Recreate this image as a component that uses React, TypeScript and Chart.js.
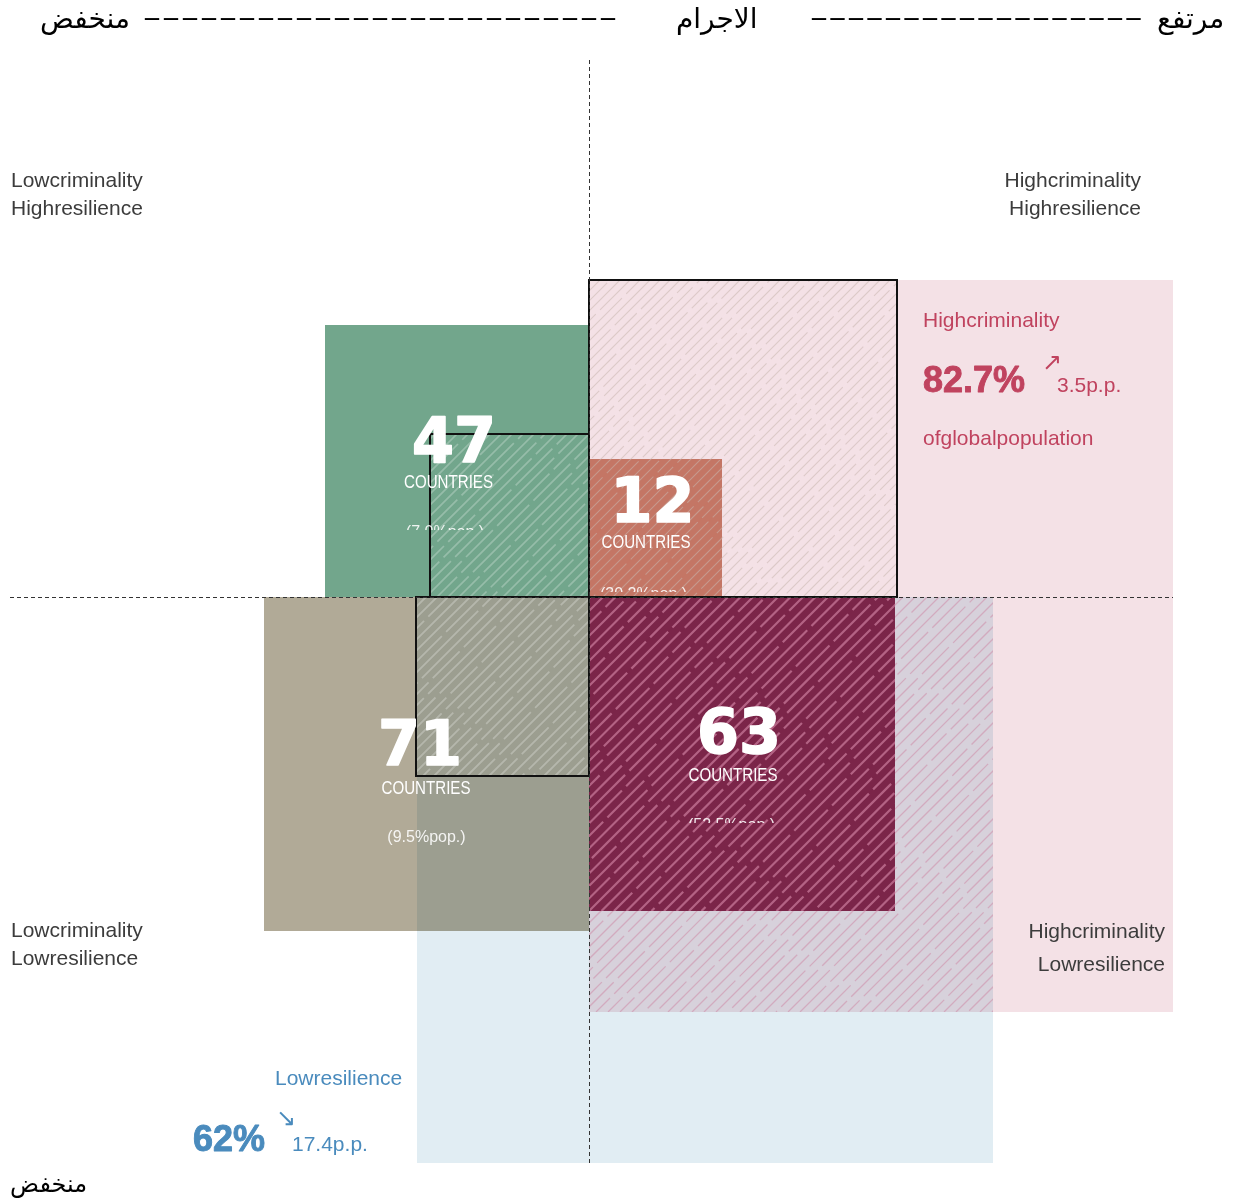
import React, { useEffect, useRef } from "react";
import { Chart, registerables } from "chart.js";

Chart.register(...registerables);

// ---------------- data (units: arbitrary, origin = quadrant centre, y up) ----------------
const X_DOMAIN = [-117.8, 129.8];
const Y_DOMAIN = [-121, 119.4];

// population-share areas
const shareLabels = ["Highcriminality", "Lowresilience"];
const shareValues = ["82.7%", "62%"];
const shareChanges = ["3.5p.p.", "17.4p.p."];
const shareArrows = ["↗", "↘"];
const shareSubtitles = ["ofglobalpopulation", ""];
const shareX0 = [0, -34.4];
const shareX1 = [116.8, 80.8];
const shareY0 = [-83, -113.2];
const shareY1 = [63.4, 0];

// country groups
const groupCounts = ["47", "12", "71", "63"];
const groupUnit = "COUNTRIES";
const groupPop = ["(7.0%pop.)", "(30.2%pop.)", "(9.5%pop.)", "(52.5%pop.)"];
const groupX0 = [-52.8, 0, -65, 0];
const groupX1 = [0, 26.6, 0, 61.2];
const groupY0 = [0, 0, -66.8, -62.8];
const groupY1 = [54.4, 27.6, 0, 0];

// outlined (hatched) boxes
const prevX0 = [-31.8, 0, -34.6];
const prevX1 = [0, 61.6, 0];
const prevY0 = [0, 0, -35.8];
const prevY1 = [32.6, 63.4, 0];

// quadrant labels
const quadLabels = [
  ["Lowcriminality", "Highresilience"],
  ["Highcriminality", "Highresilience"],
  ["Lowcriminality", "Lowresilience"],
  ["Highcriminality", "Lowresilience"],
];

// axis titles
const axisLow = "منخفض";
const axisHigh = "مرتفع";
const axisTitle = "الاجرام";

// ---------------- layout / style (not data) ----------------
const SHARE_FILL = ["#f4e1e6", "#e1edf3"];
const SHARE_TEXT = ["#c0435f", "#4a8bbd"];
const GROUP_FILL = ["#72a68c", "#c47665", "#b1aa97", "#7b2549"];

const groupNumPos = [[-27, 27], [12.7, 15], [-33.8, -33.6], [30, -31.2]];
const groupUnitPos = [[-28.1, 21.8], [11.4, 9.8], [-32.6, -39.4], [28.8, -36.8]];
const groupPopPos = [[-28.8, 12], [10.9, -0.4], [-32.5, -49], [28.5, -46.6]];
const groupPopClip: (number | null)[] = [13.4, 1, null, -45.2];

const quadPos = [
  { x: -115.6, y: [82, 76.4], align: "left" },
  { x: 110.4, y: [82, 76.4], align: "right" },
  { x: -115.6, y: [-68, -73.6], align: "left" },
  { x: 115.2, y: [-68.2, -74.8], align: "right" },
];

const shareTextPos = [
  { x: 66.8, label: 54, value: 41, arrow: [92.6, 46.6], change: 93.6, sub: 30.4 },
  { x: -62.8, label: -97.6, value: -110.8, arrow: [-60.6, -104.6], change: -59.4, sub: 0, vx: -79.2 },
];

const SANS = "'Liberation Sans', Arial, sans-serif";

function drawHatch(ctx: CanvasRenderingContext2D, L: number, T: number, W: number, H: number,
  color: string, lw: number, gap: number) {
  ctx.save();
  ctx.beginPath();
  ctx.rect(L, T, W, H);
  ctx.clip();
  ctx.strokeStyle = color;
  ctx.lineWidth = lw;
  ctx.lineCap = "butt";
  const pattern = [96, 6, 52, 6, 140, 6, 38, 6, 74, 6];
  const total = pattern.reduce((a, b) => a + b, 0);
  ctx.setLineDash(pattern);
  const cStart = Math.floor((L + T) / gap) * gap;
  const cEnd = L + W + T + H + gap;
  for (let c = cStart; c < cEnd; c += gap) {
    const k = Math.round(c / gap);
    ctx.lineDashOffset = ((k * 131) % 97) * 4.3 % total;
    ctx.beginPath();
    ctx.moveTo(c - (T + H), T + H);
    ctx.lineTo(c - T, T);
    ctx.stroke();
  }
  ctx.restore();
}

const quadrantPlugin = {
  id: "quadrants",
  afterDraw(chart: any) {
    const ctx: CanvasRenderingContext2D = chart.ctx;
    const xs = chart.scales.x;
    const ys = chart.scales.y;
    const px = (v: number) => xs.getPixelForValue(v);
    const py = (v: number) => ys.getPixelForValue(v);
    const box = (x0: number, x1: number, y0: number, y1: number) => {
      const L = px(x0), R = px(x1), T = py(y1), B = py(y0);
      return [L, T, R - L, B - T];
    };
    const text = (s: string, x: number, y: number, font: string, color: string,
      align: CanvasTextAlign = "left", maxW?: number, strokeW = 0) => {
      ctx.font = font;
      ctx.fillStyle = color;
      ctx.textAlign = align;
      ctx.textBaseline = "alphabetic";
      if (maxW) ctx.fillText(s, px(x), py(y), maxW);
      else ctx.fillText(s, px(x), py(y));
      if (strokeW > 0) {
        ctx.strokeStyle = color;
        ctx.lineWidth = strokeW;
        ctx.lineJoin = "round";
        ctx.setLineDash([]);
        if (maxW) ctx.strokeText(s, px(x), py(y), maxW);
        else ctx.strokeText(s, px(x), py(y));
      }
    };

    ctx.save();
    // 1. high-criminality share background
    {
      const [L, T, W, H] = box(shareX0[0], shareX1[0], shareY0[0], shareY1[0]);
      ctx.fillStyle = SHARE_FILL[0];
      ctx.fillRect(L, T, W, H);
    }
    // 2. green + tan groups
    [0, 2].forEach((i) => {
      const [L, T, W, H] = box(groupX0[i], groupX1[i], groupY0[i], groupY1[i]);
      ctx.fillStyle = GROUP_FILL[i];
      ctx.fillRect(L, T, W, H);
    });
    // 3. low-resilience share (multiply)
    {
      const [L, T, W, H] = box(shareX0[1], shareX1[1], shareY0[1], shareY1[1]);
      ctx.save();
      ctx.globalCompositeOperation = "multiply";
      ctx.fillStyle = SHARE_FILL[1];
      ctx.fillRect(L, T, W, H);
      ctx.restore();
    }
    // 4. hatch on intersection of both shares
    {
      const ix0 = Math.max(shareX0[0], shareX0[1]);
      const ix1 = Math.min(shareX1[0], shareX1[1]);
      const iy0 = Math.max(shareY0[0], shareY0[1]);
      const iy1 = Math.min(shareY1[0], shareY1[1]);
      const [L, T, W, H] = box(ix0, ix1, iy0, iy1);
      drawHatch(ctx, L, T, W, H, "rgba(205,140,168,0.55)", 1.3, 12);
    }
    // 5. red + maroon groups
    [1, 3].forEach((i) => {
      const [L, T, W, H] = box(groupX0[i], groupX1[i], groupY0[i], groupY1[i]);
      ctx.fillStyle = GROUP_FILL[i];
      ctx.fillRect(L, T, W, H);
    });
    {
      const [L, T, W, H] = box(groupX0[3], groupX1[3], groupY0[3], groupY1[3]);
      drawHatch(ctx, L, T, W, H, "rgba(225,150,180,0.55)", 2.2, 12.5);
    }
    // 6. hatched outlined boxes
    const prevHatch = [
      ["rgba(255,255,255,0.26)", 1.7, 11],
      ["rgba(200,182,175,0.55)", 1.1, 10],
      ["rgba(255,255,255,0.26)", 1.8, 11],
    ] as const;
    prevX0.forEach((_, i) => {
      const [L, T, W, H] = box(prevX0[i], prevX1[i], prevY0[i], prevY1[i]);
      drawHatch(ctx, L, T, W, H, prevHatch[i][0], prevHatch[i][1], prevHatch[i][2]);
    });
    ctx.setLineDash([]);
    ctx.strokeStyle = "#111";
    ctx.lineWidth = 2;
    prevX0.forEach((_, i) => {
      const [L, T, W, H] = box(prevX0[i], prevX1[i], prevY0[i], prevY1[i]);
      ctx.strokeRect(L, T, W, H);
    });

    // 7. dashed quadrant axes
    ctx.strokeStyle = "#333";
    ctx.lineWidth = 1;
    ctx.setLineDash([4, 3]);
    ctx.beginPath();
    ctx.moveTo(Math.round(px(0)) + 0.5, py(107.4));
    ctx.lineTo(Math.round(px(0)) + 0.5, py(-113.2));
    ctx.moveTo(px(-115.8), Math.round(py(0)) + 0.5);
    ctx.lineTo(px(116.8), Math.round(py(0)) + 0.5);
    ctx.stroke();
    ctx.setLineDash([]);

    // 8. group labels
    groupCounts.forEach((n, i) => {
      text(n, groupNumPos[i][0], groupNumPos[i][1], "bold 62px 'DejaVu Sans', sans-serif", "#ffffff", "center", 84, 1.6);
      text(groupUnit, groupUnitPos[i][0], groupUnitPos[i][1], `18px ${SANS}`, "#ffffff", "center", 89);
      ctx.save();
      const clip = groupPopClip[i];
      if (clip !== null) {
        ctx.beginPath();
        ctx.rect(0, 0, chart.width, py(clip));
        ctx.clip();
      }
      text(groupPop[i], groupPopPos[i][0], groupPopPos[i][1], `16px ${SANS}`, "rgba(255,255,255,0.88)", "center");
      ctx.restore();
    });

    // 9. quadrant labels
    quadLabels.forEach((lines, i) => {
      const p = quadPos[i];
      lines.forEach((s, j) => text(s, p.x, p.y[j], `21px ${SANS}`, "#3c3c3c", p.align as CanvasTextAlign));
    });

    // 10. share annotations
    shareLabels.forEach((lab, i) => {
      const p: any = shareTextPos[i];
      const c = SHARE_TEXT[i];
      text(lab, p.x, p.label, `21px ${SANS}`, c);
      text(shareValues[i], p.vx ?? p.x, p.value, `bold 36px ${SANS}`, c, "left", undefined, 0.9);
      ctx.font = `24px 'DejaVu Sans', sans-serif`;
      ctx.fillStyle = c;
      ctx.textAlign = "center";
      ctx.textBaseline = "middle";
      ctx.fillText(shareArrows[i], px(p.arrow[0]), py(p.arrow[1]));
      text(shareChanges[i], p.change, p.value, `21px ${SANS}`, c);
      if (shareSubtitles[i]) text(shareSubtitles[i], p.x, p.sub, `21px ${SANS}`, c);
    });

    // 11. axis titles (Arabic) with dash leaders
    const AR = "28px 'DejaVu Sans', sans-serif";
    text(axisLow, -109.8, 113.8, AR, "#000");
    text(axisTitle, 17.4, 113.8, AR, "#000");
    text(axisHigh, 113.6, 113.8, AR, "#000");
    text(axisLow, -115.8, -119, "24px 'DejaVu Sans', sans-serif", "#000");
    (ctx as any).letterSpacing = "5px";
    text("–".repeat(25), -88.8, 114.4, "bold 28px 'Liberation Serif', serif", "#000");
    (ctx as any).letterSpacing = "4.5px";
    text("–".repeat(18), 44.6, 114.4, "bold 28px 'Liberation Serif', serif", "#000");
    (ctx as any).letterSpacing = "0px";
    ctx.restore();
  },
};

export default function App() {
  const ref = useRef<HTMLCanvasElement | null>(null);
  useEffect(() => {
    if (!ref.current) return;
    const chart = new Chart(ref.current, {
      type: "scatter",
      data: { datasets: [{ data: [], showLine: false, pointRadius: 0 }] },
      options: {
        animation: false,
        responsive: false,
        maintainAspectRatio: false,
        devicePixelRatio: 1,
        layout: { padding: 0 },
        events: [],
        plugins: { legend: { display: false }, tooltip: { enabled: false }, title: { display: false } },
        scales: {
          x: { type: "linear", min: X_DOMAIN[0], max: X_DOMAIN[1], display: false },
          y: { type: "linear", min: Y_DOMAIN[0], max: Y_DOMAIN[1], display: false },
        },
      },
      plugins: [quadrantPlugin],
    });
    return () => chart.destroy();
  }, []);
  return (
    <div style={{ position: "absolute", left: 0, top: 0, width: 1238, height: 1202, background: "#fff" }}>
      <canvas ref={ref} width={1238} height={1202} style={{ display: "block", width: 1238, height: 1202 }} />
    </div>
  );
}
